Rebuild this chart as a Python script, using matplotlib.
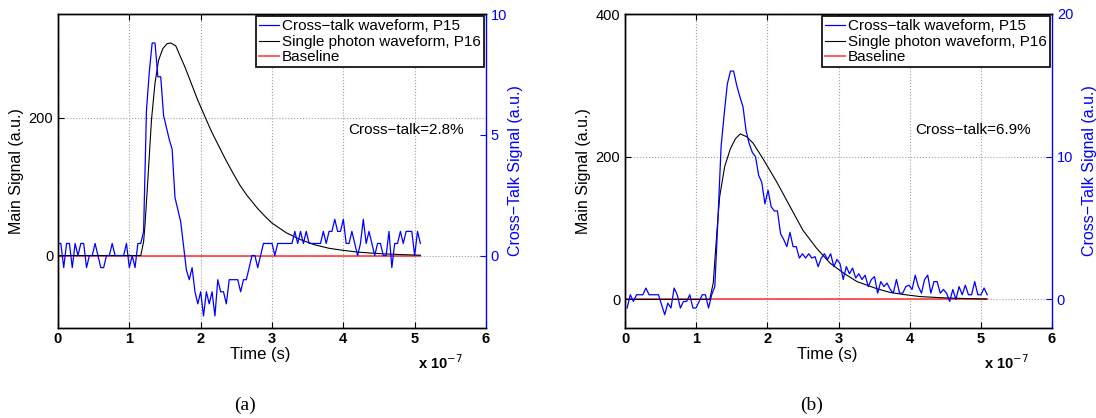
import numpy as np
import matplotlib
matplotlib.use('Agg')
import matplotlib.pyplot as plt

plt.rcParams['font.family'] = ['Liberation Sans', 'DejaVu Sans']

# ---------------- Panel (a) data ----------------
# cross-talk waveform P15 (right axis, a.u.), sampled every 4 ns from t=0
a_ct = [0.5, 0.5, -0.5, 0.5, 0.5, -0.5, 0.5, 0, 0.5, 0.5,
        -0.5, 0, 0, 0.5, 0, -0.5, -0.5, 0, 0, 0.5,
        0, 0, 0, 0, 0.5, -0.5, 0, -0.5, 0.5, 0.5,
        1.0, 6.0, 7.6, 8.8, 8.8, 7.4, 7.4, 5.8, 5.3, 4.8,
        4.4, 2.4, 1.9, 1.4, 0.4, -0.6, -1.0, -0.5, -1.5, -2.0,
        -1.5, -2.5, -1.5, -2.0, -1.5, -2.5, -1.0, -1.5, -1.5, -2.0,
        -1.0, -1.0, -1.0, -1.0, -1.5, -1.0, -1.0, -0.5, 0, 0,
        -0.5, 0, 0.5, 0.5, 0.5, 0.5, 0, 0.5, 0.5, 0.5,
        0.5, 0.5, 0.5, 1.0, 0.5, 1.0, 0.5, 1.0, 0.5, 0.5,
        0.5, 0.5, 0.5, 1.0, 0.5, 1.0, 1.0, 1.5, 1.0, 1.0,
        1.5, 0.5, 0.5, 1.0, 0.5, 0, 0.5, 1.5, 0.5, 1.0,
        0.5, 0, 0.5, 0.5, 0, 0, 1.0, -0.5, 0.5, 0.5,
        1.0, 0.5, 1.0, 1.0, 1.0, 0, 1.0, 0.5]
a_ct_start, a_ct_end = 0.0, 5.08          # x 1e-7 s

# single photon waveform P16 (left axis)
a_sp_t = [0, 0.5, 1.0, 1.16, 1.2, 1.22, 1.26, 1.31, 1.36, 1.41, 1.47, 1.53,
          1.58, 1.65, 1.78, 1.96, 2.15, 2.34, 2.45, 2.55, 2.65, 2.8, 2.9,
          3.0, 3.2, 3.4, 3.6, 3.8, 4.0, 4.2, 4.4, 4.6, 4.8, 5.08]
a_sp_v = [0, 0, 0, 0, 20, 45, 110, 196, 250, 283, 300, 307,
          308, 304, 273, 225, 180, 141, 120, 102, 87, 68, 57,
          47, 33, 23, 15.5, 10.5, 7.5, 5, 3.5, 2.3, 1.4, 0.5]

# ---------------- Panel (b) data ----------------
b_ct = [-0.6, 0.33, -0.14, 0.33, 0.33, 0.33, 0.8, 0.33, 0.33, 0.33,
        0.33, -0.37, -1.07, -0.26, -0.6, 0.8, 0.33, -0.6, -0.14, -0.14,
        0.33, -0.6, -0.6, -0.14, 0.33, 0.33, -0.6, 0.33, 0.9, 5.6,
        10.7, 13.0, 15.1, 16.0, 16.0, 15.0, 14.2, 13.5, 11.8, 10.9,
        10.3, 10.0, 8.7, 8.2, 6.7, 7.65, 6.5, 6.2, 6.2, 4.6,
        4.2, 3.7, 4.7, 3.7, 3.7, 2.9, 3.2, 2.9, 3.2, 2.9,
        3.0, 2.3, 2.9, 3.2, 2.8, 3.2, 2.3, 2.8, 2.5, 1.4,
        2.3, 1.8, 2.2, 1.5, 1.8, 1.4, 1.7, 0.9, 1.4, 1.6,
        0.44, 1.25, 0.9, 1.15, 0.7, 0.44, 1.4, 0.44, 0.44, 0.9,
        1.0, 0.7, 1.7, 0.9, 0.44, 1.4, 1.7, 0.44, 1.25, 1.25,
        0.44, 0.7, 0.44, -0.14, 0.7, 0.0, 0.9, 0.33, 1.0, 0.33,
        0.33, 1.25, 0.33, 0.33, 0.8, 0.33]
b_ct_start, b_ct_end = 0.03, 5.09

b_sp_t = [0, 0.5, 1.0, 1.19, 1.24, 1.29, 1.33, 1.4, 1.48, 1.55, 1.62, 1.71,
          1.8, 1.94, 2.13, 2.32, 2.5, 2.69, 2.88, 3.07, 3.26, 3.54, 3.72,
          3.91, 4.15, 4.47, 4.8, 5.08]
b_sp_v = [0, 0, 0, 0, 23, 93, 144, 186, 211, 225, 232, 228,
          219, 197, 165, 130, 97, 72, 51, 37, 25, 15, 10,
          7, 4, 2.3, 1.2, 0.5]

panels = [
    dict(ct=a_ct, ct_range=(a_ct_start, a_ct_end), sp_t=a_sp_t, sp_v=a_sp_v,
         ylim=(-105, 350), yticks=[0, 200], ylim2=(-3, 10), yticks2=[0, 5, 10],
         ctext='Cross\u2212talk=2.8%', caption='(a)', left=58, width=428, r_off=22),
    dict(ct=b_ct, ct_range=(b_ct_start, b_ct_end), sp_t=b_sp_t, sp_v=b_sp_v,
         ylim=(-40, 400), yticks=[0, 200, 400], ylim2=(-2, 20), yticks2=[0, 10, 20],
         ctext='Cross\u2212talk=6.9%', caption='(b)', left=625, width=427, r_off=30),
]

W, H = 1096, 418
fig = plt.figure(figsize=(W / 100, H / 100), dpi=100)
BLUE = '#0000ff'
xticks = [0, 1, 2, 3, 4, 5, 6]

for p in panels:
    ax = fig.add_axes([p['left'] / W, 1 - 328 / H, p['width'] / W, 314 / H])
    ax2 = ax.twinx()

    t_ct = np.linspace(p['ct_range'][0], p['ct_range'][1], len(p['ct'])) * 1e-7
    t_sp = np.array(p['sp_t']) * 1e-7

    # grid
    ax.set_axisbelow(True)
    ax.grid(True, linestyle=':', color='#a0a0a0', linewidth=0.8)

    lb, = ax.plot([0, 5.08e-7], [0, 0], color='#ff3030', lw=1.3, alpha=0.85)
    lk, = ax.plot(t_sp, p['sp_v'], color='black', lw=0.8)
    lc, = ax2.plot(t_ct, p['ct'], color=BLUE, lw=0.9)

    ax.set_xlim(0, 6e-7)
    ax.set_ylim(*p['ylim'])
    ax.set_yticks(p['yticks'])
    ax.set_xticks([k * 1e-7 for k in xticks])
    ax.set_xticklabels([str(k) for k in xticks], fontweight='bold')
    ax2.set_ylim(*p['ylim2'])
    ax2.set_yticks(p['yticks2'])

    ax.tick_params(axis='both', direction='in', length=4, labelsize=10.5,
                   top=True, width=0.8)
    ax.tick_params(axis='x', pad=3)
    ax2.tick_params(axis='y', direction='in', length=4, colors=BLUE,
                    labelsize=10.5, width=0.8)
    for s in ['left', 'top', 'bottom']:
        ax2.spines[s].set_color('black')
    ax2.spines['right'].set_color(BLUE)
    ax.spines['right'].set_visible(False)
    for sp in list(ax.spines.values()) + list(ax2.spines.values()):
        sp.set_linewidth(1.0)

    ax.set_ylabel('Main Signal (a.u.)', fontsize=11.5)
    ax.yaxis.set_label_coords(-34 / p['width'], 0.5)
    ax2.set_ylabel('Cross\u2212Talk Signal (a.u.)', fontsize=11.5, color=BLUE)
    ax2.yaxis.set_label_coords(1 + p['r_off'] / p['width'], 0.5)
    ax.set_xlabel('Time (s)', fontsize=12)
    ax.xaxis.set_label_coords(202 / p['width'], -27 / 314)
    ax.xaxis.label.set_va('center')

    ax.text(0.945, -35 / 314, 'x 10$^{-7}$', transform=ax.transAxes, ha='right',
            va='center', fontsize=10.5, fontweight='bold')
    ax.text(290 / p['width'], 1 - 116 / 314, p['ctext'], transform=ax.transAxes,
            ha='left', va='center', fontsize=11)
    fig.text((p['left'] + 187) / W, 1 - 405 / H, p['caption'],
             family=['Liberation Serif'], fontsize=14, ha='center', va='center')

    leg = ax2.legend([lc, lk, lb], ['Cross\u2212talk waveform, P15',
                                   'Single photon waveform, P16', 'Baseline'],
                     loc='upper right', fontsize=11, frameon=True, fancybox=False,
                     edgecolor='black', framealpha=1, borderaxespad=0.15,
                     handlelength=1.3, handletextpad=0.2, labelspacing=0.1,
                     borderpad=0.2)
    leg.get_frame().set_linewidth(1.2)

fig.savefig('out.png', dpi=100)
